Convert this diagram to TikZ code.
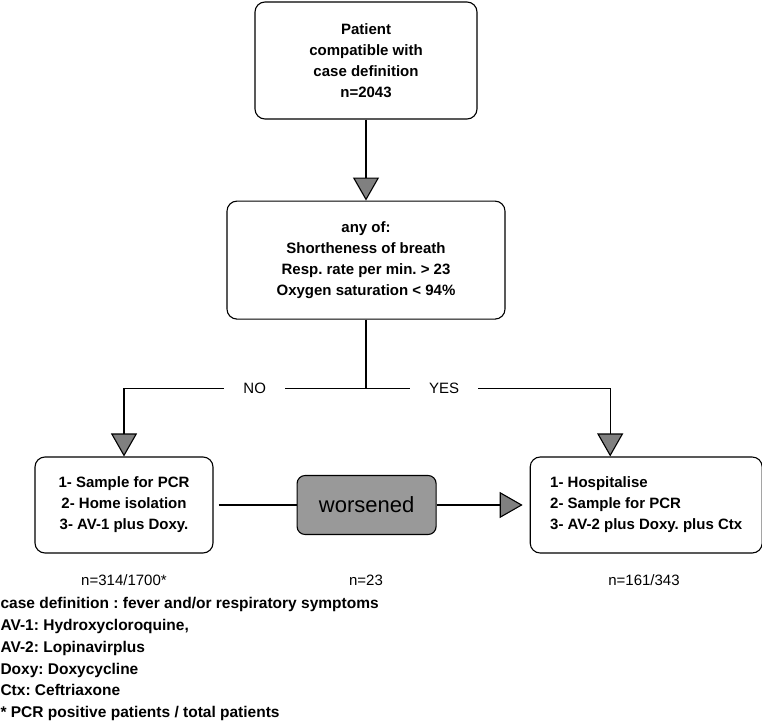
\documentclass[tikz,border=0pt]{standalone}
\usepackage{fontspec}
\setmainfont{Liberation Sans}
\frenchspacing
\usetikzlibrary{positioning,arrows.meta}

\begin{document}
\begin{tikzpicture}[x=1pt, y=-1pt, line width=1.1pt,
    >={Triangle[width=26pt,length=23pt,fill=black!50]},
    box/.style={draw, rounded corners=10pt, align=center, font=\bfseries\fontsize{15}{21}\selectfont},
    plain/.style={font=\fontsize{15}{18}\selectfont},
    answer/.style={plain, fill=white, inner xsep=19pt}]
  \useasboundingbox (0,0) rectangle (762,722);

  \node[box, minimum width=222pt, minimum height=117pt] (patient) at (366,60.5) {Patient\\compatible with\\case definition\\n=2043};
  \node[box, minimum width=278pt, minimum height=118pt] (crit) [below=81pt of patient] {any of:\\Shortheness of breath\\Resp. rate per min. > 23\\Oxygen saturation < 94\%};

  \node[box, minimum width=178pt, minimum height=96pt] (home) at (124,505) {1- Sample for PCR\\2- Home isolation\\3- AV-1 plus Doxy.};
  \node[draw, rounded corners=8pt, fill=black!40, minimum width=139pt, minimum height=59pt, font=\fontsize{22}{24}\selectfont] (worse) [right=83pt of home] {worsened};
  \node[box, align=left, minimum width=232pt, minimum height=96pt] (hosp) [right=93pt of worse] {1- Hospitalise\\2- Sample for PCR\\3- AV-2 plus Doxy. plus Ctx};

  \coordinate (split) at ([yshift=-69pt]crit.south);
  \coordinate (hospin) at ([xshift=-36pt]hosp.north);

  \draw[->] (patient) -- (crit);
  \draw (crit) -- (split);
  \draw[->] (split) -| node[answer, pos=0.23] {NO} (home.north);
  \draw[->] (split) -| node[answer, pos=0.16] {YES} (hospin);
  \draw[shorten <=5pt] (home) -- (worse);
  \draw[->, shorten >=7pt] (worse) -- (hosp);

  % counts under the boxes
  \node[plain] (nhome) at (124,580) {n=314/1700*};
  \node[plain] (nworse) at (366,580) {n=23};
  \node[plain] (nhosp) at (644,580) {n=161/343};

  \node[anchor=north west, inner sep=0pt, align=left, font=\bfseries\fontsize{15.5}{21.8}\selectfont] (notes) at (0,597) {case definition : fever and/or respiratory symptoms\\AV-1: Hydroxycloroquine,\\AV-2: Lopinavirplus\\Doxy: Doxycycline\\Ctx: Ceftriaxone\\* PCR positive patients / total patients};
\end{tikzpicture}
\end{document}
